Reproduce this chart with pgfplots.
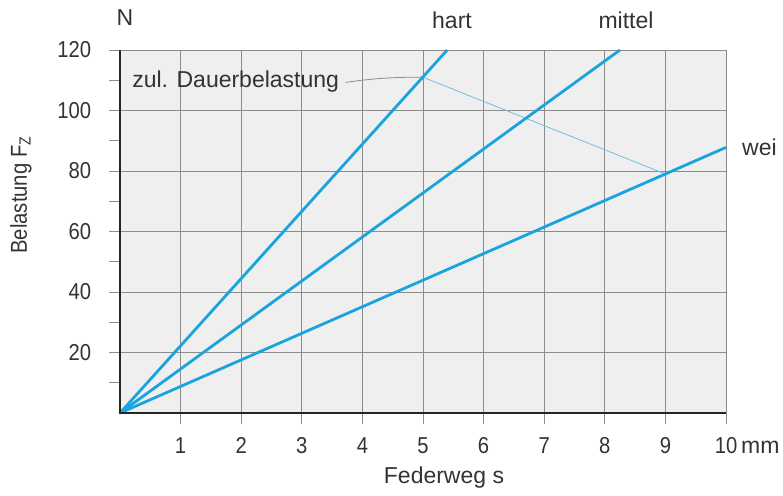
\documentclass[border=0pt]{standalone}
\usepackage{pgfplots}
\pgfplotsset{compat=1.18}
\usepackage{fontspec}
\setmainfont{Liberation Sans}
\newfontfamily\narrow{Liberation Sans}[FakeStretch=0.88]
\definecolor{linblue}{HTML}{1AA3DC}
\definecolor{thinblue}{HTML}{6ABFE6}
\definecolor{gridgray}{HTML}{8C8C8C}
\definecolor{bggray}{HTML}{EFEFEF}
\definecolor{txt}{HTML}{333333}
\begin{document}
\fontsize{23}{27}\selectfont
\begin{tikzpicture}
\path[use as bounding box] (-120pt,-82pt) rectangle (663pt,413pt);
\begin{axis}[
  at={(0pt,0pt)}, anchor=south west,
  scale only axis, width=606pt, height=363pt,
  xmin=0, xmax=10, ymin=0, ymax=120,
  axis lines=left, axis line style={-, draw=none},
  axis background/.style={fill=bggray},
  xtick={1,...,10},
  xticklabels={1,2,3,4,5,6,7,8,9,{10\rlap{\,\normalfont mm}}},
  ytick={20,40,...,120},
  minor ytick={10,30,...,110},
  grid=major,
  major grid style={gridgray, line width=0.8pt},
  tick align=outside,
  major tick length=11pt,
  minor tick length=11pt,
  every tick/.style={gridgray, line width=0.8pt},
  tick label style={font=\fontsize{23}{27}\narrow, text=txt},
  /pgf/number format/assume math mode=true,
  yticklabel style={xshift=-10pt},
  xticklabel style={yshift=-6pt},
  clip=false,
]
\addplot[thinblue, line width=0.8pt] coordinates {(5,111) (9,79)};
\draw[gridgray, line width=0.8pt] (axis cs:3.72,109.3) to[bend left=4] (axis cs:5,111);
\addplot[linblue, line width=2.8pt] coordinates {(0,0) (5.4,120)};
\addplot[linblue, line width=2.8pt] coordinates {(0,0) (8.25,120)};
\addplot[linblue, line width=2.8pt] coordinates {(0,0) (10,87.8)};
\draw[black!85, line width=2.4pt] (axis cs:0,120) -- (axis cs:0,0) -- (axis cs:10,0);
\node[anchor=west, inner sep=0pt, text=txt] at (axis cs:0.2,109.7) {zul. Dauerbelastung};
\end{axis}
\node[text=txt, rotate=90, font=\narrow] at (-99pt,218pt) {Belastung F\textsubscript{Z}};
\node[text=txt] at (324pt,-65pt) {Federweg s};
\node[text=txt] at (5pt,395pt) {N};
\node[text=txt] at (332pt,393pt) {hart};
\node[text=txt] at (506pt,393pt) {mittel};
\node[text=txt, anchor=west, inner sep=0pt] at (622pt,266pt) {wei};
\end{tikzpicture}
\end{document}
